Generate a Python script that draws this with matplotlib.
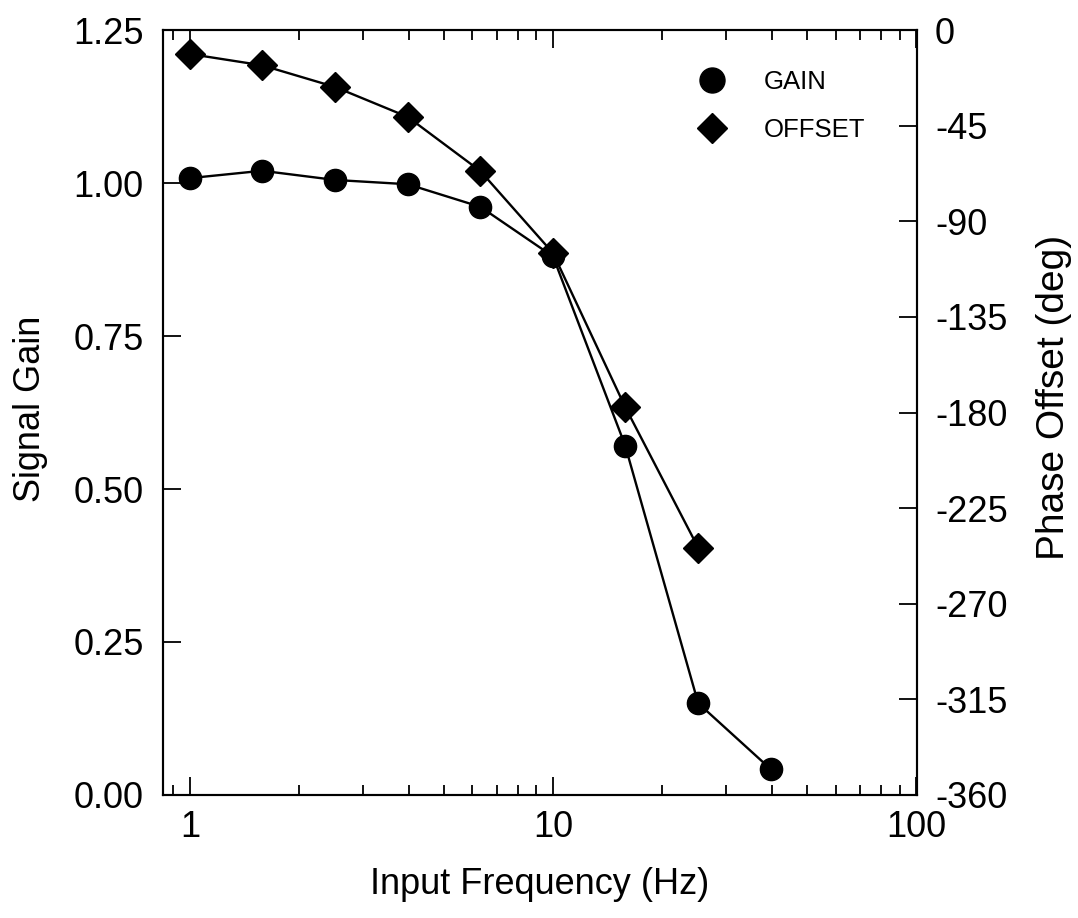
import numpy as np
import matplotlib.pyplot as plt
from matplotlib.lines import Line2D
from matplotlib.ticker import FixedLocator, FixedFormatter, LogLocator, NullFormatter

plt.rcParams['font.family'] = ['Liberation Sans', 'DejaVu Sans']

# input frequency (Hz)
freq = [1.0, 1.58, 2.51, 3.98, 6.31, 10.0, 15.8, 25.1, 39.8]
gain = [1.008, 1.020, 1.005, 0.998, 0.961, 0.880, 0.571, 0.150, 0.042]
freq_phase = [1.0, 1.58, 2.51, 3.98, 6.31, 10.0, 15.8, 25.1]
phase = [-11.3, -16.6, -26.8, -40.9, -66.4, -105.0, -177.4, -243.6]

gain_ticks = [0.0, 0.25, 0.5, 0.75, 1.0, 1.25]
phase_ticks = [0, -45, -90, -135, -180, -225, -270, -315, -360]
x_ticks = [1, 10, 100]

fig = plt.figure(figsize=(10.78, 9.18), dpi=100)
ax = fig.add_axes([0.1512, 0.134, 0.6994, 0.8333])
ax2 = ax.twinx()

ax.plot(freq, gain, '-', color='black', lw=1.7, marker='o', ms=16, zorder=3)
ax2.plot(freq_phase, phase, '-', color='black', lw=1.7, marker='D', ms=15, zorder=3)

ax.set_xscale('log')
ax.set_xlim(0.843, 100.5)
ax.set_ylim(0, 1.25)
ax2.set_ylim(-360, 0)

ax.xaxis.set_major_locator(FixedLocator(x_ticks))
ax.xaxis.set_major_formatter(FixedFormatter([str(t) for t in x_ticks]))
ax.xaxis.set_minor_locator(LogLocator(base=10, subs=np.arange(2, 10)))
ax.xaxis.set_minor_formatter(NullFormatter())
ax.set_yticks(gain_ticks)
ax.set_yticklabels(['%.2f' % t for t in gain_ticks])
ax2.set_yticks(phase_ticks)
ax2.set_yticklabels([str(t) for t in phase_ticks])

ax.tick_params(axis='both', which='major', direction='in', length=13, width=1.3,
               labelsize=26, top=True, pad=11)
ax.tick_params(axis='x', which='minor', direction='in', length=7, width=1.3, top=True)
ax.tick_params(axis='y', pad=14)
ax2.tick_params(axis='y', which='major', direction='in', length=13, width=1.3,
                labelsize=26, pad=13)
ax2.tick_params(axis='x', which='both', top=False, bottom=False)

for a in (ax, ax2):
    for s in a.spines.values():
        s.set_linewidth(1.5)

ax.set_xlabel('Input Frequency (Hz)', fontsize=26, labelpad=16)
ax.set_ylabel('Signal Gain', fontsize=26, labelpad=18)
ax.yaxis.label.set_y(0.505)
ax2.set_ylabel('Phase Offset (deg)', fontsize=28, labelpad=20)
ax2.yaxis.label.set_y(0.52)

handles = [Line2D([], [], color='black', marker='o', ls='none', ms=18),
           Line2D([], [], color='black', marker='D', ls='none', ms=15)]
ax.legend(handles, ['GAIN', 'OFFSET'], loc='upper left', bbox_to_anchor=(0.703, 0.948),
          frameon=False, fontsize=18.5, borderpad=0, handlelength=1.5,
          handletextpad=1.25, labelspacing=0.95, borderaxespad=0)

fig.savefig('out.png', dpi=100)
